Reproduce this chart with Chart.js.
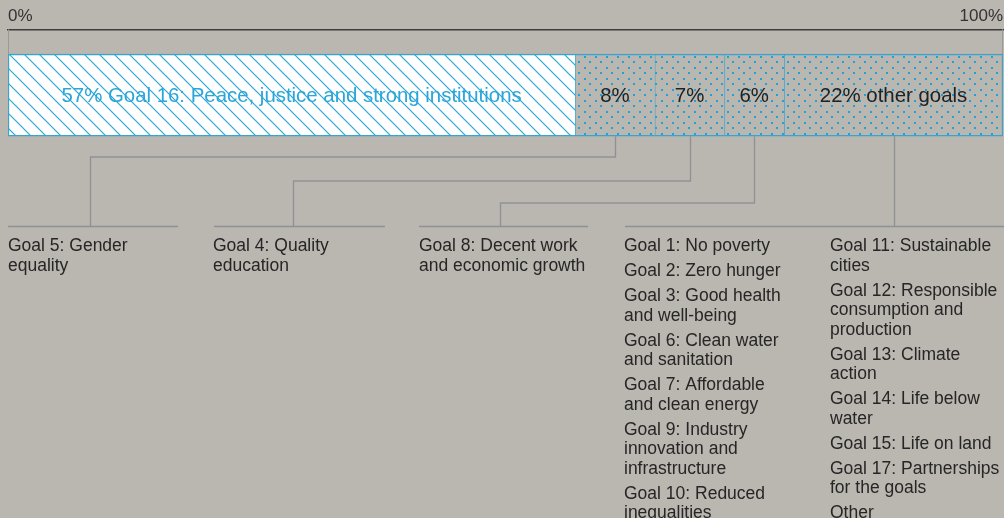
<!DOCTYPE html>
<html>
<head>
<meta charset="utf-8">
<script src="https://cdn.jsdelivr.net/npm/chart.js@4/dist/chart.umd.min.js"></script>
<style>
  html, body { margin: 0; padding: 0; background: #bab6b0; }
  canvas { display: block; }
</style>
</head>
<body>
<canvas id="myChart" width="1004" height="518"></canvas>
<script>
// data
var categories = ['Goal 16: Peace, justice and strong institutions', 'Goal 5', 'Goal 4', 'Goal 8', 'other goals'];
var shares = [57, 8, 7, 6, 22];
var barLabels = ['57% Goal 16: Peace, justice and strong institutions', '8%', '7%', '6%', '22% other goals'];
var tickLabels = {0: '0%', 100: '100%'};

var goal5Text = [['Goal 5: Gender', 'equality']];
var goal4Text = [['Goal 4: Quality', 'education']];
var goal8Text = [['Goal 8: Decent work', 'and economic growth']];
var otherGoalsA = [
  ['Goal 1: No poverty'],
  ['Goal 2: Zero hunger'],
  ['Goal 3: Good health', 'and well-being'],
  ['Goal 6: Clean water', 'and sanitation'],
  ['Goal 7: Affordable', 'and clean energy'],
  ['Goal 9: Industry', 'innovation and', 'infrastructure'],
  ['Goal 10: Reduced', 'inequalities']
];
var otherGoalsB = [
  ['Goal 11: Sustainable', 'cities'],
  ['Goal 12: Responsible', 'consumption and', 'production'],
  ['Goal 13: Climate', 'action'],
  ['Goal 14: Life below', 'water'],
  ['Goal 15: Life on land'],
  ['Goal 17: Partnerships', 'for the goals'],
  ['Other']
];

var BG = '#bab6b0';
var CYAN = '#2aa6d9';
var LINE = '#8e9296';
var FONT = '"Liberation Sans", Arial, sans-serif';

var canvas = document.getElementById('myChart');
var ctx = canvas.getContext('2d');

function hatchPattern() {
  var c = document.createElement('canvas');
  c.width = 15; c.height = 15;
  var g = c.getContext('2d');
  g.fillStyle = '#ffffff';
  g.fillRect(0, 0, 15, 15);
  g.strokeStyle = CYAN;
  g.lineWidth = 1.2;
  g.beginPath();
  g.moveTo(-2, -2); g.lineTo(17, 17);
  g.moveTo(-2, 13); g.lineTo(2, 17);
  g.moveTo(13, -2); g.lineTo(17, 2);
  g.stroke();
  return ctx.createPattern(c, 'repeat');
}

function dotPattern() {
  var c = document.createElement('canvas');
  c.width = 11; c.height = 11;
  var g = c.getContext('2d');
  g.fillStyle = BG;
  g.fillRect(0, 0, 11, 11);
  g.fillStyle = '#1fa2dc';
  g.fillRect(1, 1, 2, 2);
  g.fillRect(6, 6, 2, 2);
  return ctx.createPattern(c, 'repeat');
}

var hatch = hatchPattern();
var dots = dotPattern();

// column text blocks and where their leader lines land
var columns = [
  {x: 8, items: goal5Text, line: [8, 178], drop: 90, elbow: 157, seg: 1},
  {x: 213, items: goal4Text, line: [214, 385], drop: 293, elbow: 181, seg: 2},
  {x: 419, items: goal8Text, line: [419, 588], drop: 500, elbow: 203, seg: 3},
  {x: 624, items: otherGoalsA, line: [625, 1004], drop: null, elbow: null, seg: 4},
  {x: 830, items: otherGoalsB, line: null, drop: null, elbow: null, seg: null}
];

var annotations = {
  id: 'annotations',
  afterDatasetsDraw: function(chart) {
    var c = chart.ctx;
    var xs = chart.scales.x;
    var bar0 = chart.getDatasetMeta(0).data[0];
    var barTop = bar0.y - bar0.height / 2;
    var barBot = bar0.y + bar0.height / 2;
    var axisY = chart.chartArea.top;
    c.save();

    // end ticks between axis and bar
    c.strokeStyle = '#9a9a9a';
    c.lineWidth = 1;
    [0, 100].forEach(function(v) {
      var px = Math.round(xs.getPixelForValue(v)) + (v === 0 ? 0.5 : -0.5);
      c.beginPath(); c.moveTo(px, axisY); c.lineTo(px, barTop); c.stroke();
    });

    // labels inside the bar
    c.textBaseline = 'middle';
    c.textAlign = 'center';
    c.font = '20.4px ' + FONT;
    chart.data.datasets.forEach(function(ds, i) {
      var el = chart.getDatasetMeta(i).data[0];
      var cx = (el.x + el.base) / 2;
      c.fillStyle = i === 0 ? CYAN : '#222222';
      c.fillText(barLabels[i], cx, el.y + 1);
    });

    // leader lines
    var baseY = 226.5;
    c.strokeStyle = LINE;
    c.lineWidth = 1.3;
    columns.forEach(function(col) {
      if (col.line) {
        c.beginPath(); c.moveTo(col.line[0], baseY); c.lineTo(col.line[1], baseY); c.stroke();
      }
      if (col.seg === null) return;
      var el = chart.getDatasetMeta(col.seg).data[0];
      var cx = Math.round((el.x + el.base) / 2) + 0.5;
      c.beginPath();
      c.moveTo(cx, barBot);
      if (col.drop !== null) {
        c.lineTo(cx, col.elbow);
        c.lineTo(col.drop + 0.5, col.elbow);
        c.lineTo(col.drop + 0.5, baseY);
      } else {
        c.lineTo(cx, baseY);
      }
      c.stroke();
    });

    // text under the lines
    c.textAlign = 'left';
    c.textBaseline = 'alphabetic';
    c.font = '17.5px ' + FONT;
    c.fillStyle = '#262626';
    columns.forEach(function(col) {
      var y = 251;
      col.items.forEach(function(lines) {
        lines.forEach(function(t) {
          c.fillText(t, col.x, y);
          y += 19.5;
        });
        y += 5.5;
      });
    });
    c.restore();
  }
};

var datasets = shares.map(function(v, i) {
  return {
    label: categories[i],
    data: [v],
    backgroundColor: i === 0 ? hatch : dots,
    borderColor: '#38a5cf',
    borderWidth: {top: 1.5, bottom: 1.5, left: i === 0 ? 1.5 : 1, right: i === shares.length - 1 ? 1.5 : 0},
    borderSkipped: false,
    barThickness: 82
  };
});

new Chart(canvas, {
  type: 'bar',
  data: {
    labels: ['SDG'],
    datasets: datasets
  },
  options: {
    indexAxis: 'y',
    responsive: false,
    animation: false,
    devicePixelRatio: 1,
    layout: {padding: {top: 3, left: 8, right: 1, bottom: 357}},
    plugins: {legend: {display: false}, tooltip: {enabled: false}},
    scales: {
      x: {
        position: 'top',
        stacked: true,
        min: 0,
        max: 100,
        afterFit: function(s) { s.paddingLeft = 0; s.paddingRight = 0; },
        ticks: {
          stepSize: 100,
          align: 'inner',
          padding: 3,
          color: '#333333',
          font: {size: 17, family: FONT},
          callback: function(v) { return tickLabels[v]; }
        },
        grid: {display: false, drawTicks: false},
        border: {color: '#3c3c3c', width: 1.5}
      },
      y: {stacked: true, display: false}
    }
  },
  plugins: [annotations]
});
</script>
</body>
</html>
